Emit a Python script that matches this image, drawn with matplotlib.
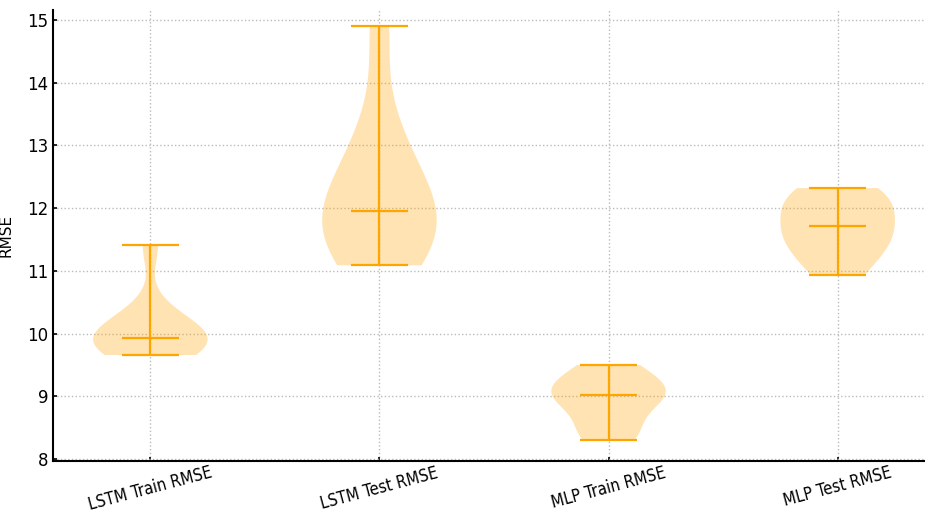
import matplotlib
matplotlib.use("Agg")
import matplotlib.pyplot as plt
import numpy as np

# RMSE of repeated runs for each model / split
categories = ["LSTM Train RMSE", "LSTM Test RMSE", "MLP Train RMSE", "MLP Test RMSE"]
lstm_train = [9.66, 9.72, 9.80, 9.86, 9.90, 9.96, 10.02, 10.15, 10.35, 11.41]
lstm_test = [11.09, 11.25, 11.50, 11.70, 11.85, 12.05, 12.30, 12.70, 13.30, 14.91]
mlp_train = [8.30, 8.40, 8.62, 8.88, 9.00, 9.04, 9.10, 9.20, 9.38, 9.50]
mlp_test = [10.93, 11.15, 11.40, 11.50, 11.62, 11.80, 11.95, 12.10, 12.25, 12.32]
series = [lstm_train, lstm_test, mlp_train, mlp_test]
y_ticks = [8, 9, 10, 11, 12, 13, 14, 15]

fig = plt.figure(figsize=(9.25, 5.13), dpi=100)
W, H = 925, 513
left, right, top, bottom = 53, 935, 10, 461
ax = fig.add_axes([left / W, 1 - bottom / H, (right - left) / W, (bottom - top) / H])

parts = ax.violinplot(series, showmedians=True)
for body in parts["bodies"]:
    body.set_facecolor("orange")
    body.set_edgecolor("none")
    body.set_alpha(0.3)
for key in ("cmins", "cmaxes", "cbars", "cmedians"):
    parts[key].set_color("orange")
    parts[key].set_linewidth(1.6)

ax.set_ylim(7.97, 15.16)
ax.set_xticks(np.arange(1, len(categories) + 1))
ax.set_xticklabels(categories, rotation=15, fontsize=12, fontstretch="condensed")
ax.set_yticks(y_ticks)
ax.tick_params(axis="y", labelsize=12)
ax.tick_params(direction="in", length=3, width=1.2)
ax.tick_params(axis="x", pad=2)
ax.set_ylabel("RMSE", fontsize=11)
ax.yaxis.set_label_coords((14 - left) / (right - left), 0.5)

ax.grid(True, linestyle=":", color="#bbbbbb", linewidth=1.0)
ax.set_axisbelow(True)
for side in ("top", "right"):
    ax.spines[side].set_visible(False)
for side in ("left", "bottom"):
    ax.spines[side].set_linewidth(1.5)

fig.savefig("out.png", dpi=100)
